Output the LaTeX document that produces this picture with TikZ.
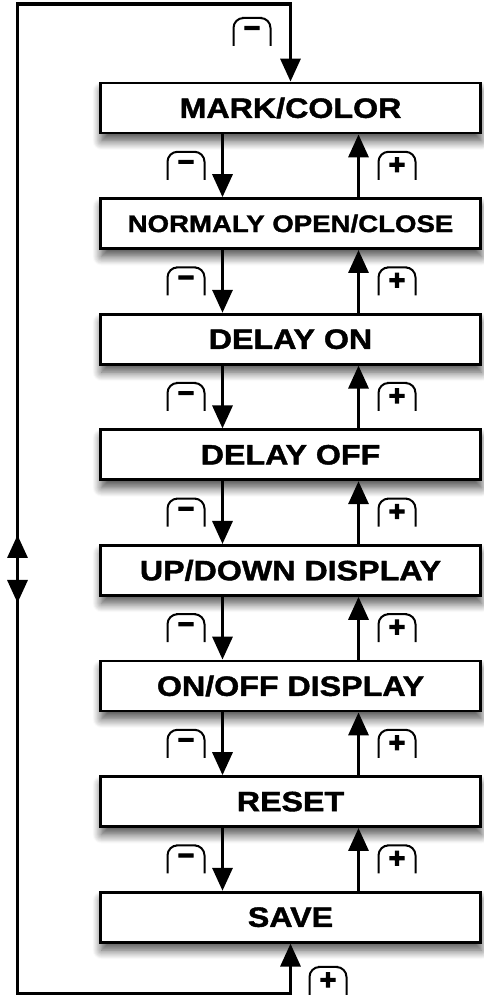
\documentclass[tikz,border=0pt]{standalone}
\usepackage{fontspec}
\newfontfamily\boxfont{Liberation Sans Bold}[FakeStretch=1.15, FakeBold=1.5]
\newfontfamily\signfont{Liberation Sans Bold}[FakeBold=4]
\usetikzlibrary{positioning,arrows.meta,shadows.blur}

\newcommand{\buttonarch}[1]{\draw[archline] (#1.south west) |- (#1.north) -| (#1.south east);}

\begin{document}
\begin{tikzpicture}[x=1pt,y=1pt,
    node distance=62.8pt,
    bighead/.tip={Triangle[width=20pt,length=23pt]},
    statebox/.style={rectangle, draw=black, line width=2.8pt, fill=white, minimum width=380pt, minimum height=50pt, font=\boxfont\fontsize{28}{30}\selectfont, blur shadow={shadow xshift=1pt, shadow yshift=-8pt, shadow blur radius=9pt, shadow blur steps=10, shadow opacity=70}},
    flow/.style={line width=3.3pt, -bighead},
    btn/.style={inner sep=0pt, outer sep=0pt, minimum width=37pt, minimum height=28pt, font=\signfont\fontsize{28}{28}\selectfont},
    archline/.style={line width=2pt, rounded corners=10pt},
]
\useasboundingbox (0,0) rectangle (483,995);

%Nodes
\node[statebox] (mark) at (290.5,887) {MARK/COLOR};
\node[statebox, font=\boxfont\fontsize{24}{26}\selectfont] (normaly) [below=of mark] {NORMALY OPEN/CLOSE};
\node[statebox] (delayon) [below=of normaly] {DELAY ON};
\node[statebox] (delayoff) [below=of delayon] {DELAY OFF};
\node[statebox] (updown) [below=of delayoff] {UP/DOWN DISPLAY};
\node[statebox] (onoff) [below=of updown] {ON/OFF DISPLAY};
\node[statebox] (reset) [below=of onoff] {RESET};
\node[statebox] (save) [below=of reset] {SAVE};

%Minus steps
\draw[flow] ([xshift=-68pt]mark.south) -- ([xshift=-68pt]normaly.north) node[btn, midway, left=18pt] (m1) {−};
\draw[flow] ([xshift=-68pt]normaly.south) -- ([xshift=-68pt]delayon.north) node[btn, midway, left=18pt] (m2) {−};
\draw[flow] ([xshift=-68pt]delayon.south) -- ([xshift=-68pt]delayoff.north) node[btn, midway, left=18pt] (m3) {−};
\draw[flow] ([xshift=-68pt]delayoff.south) -- ([xshift=-68pt]updown.north) node[btn, midway, left=18pt] (m4) {−};
\draw[flow] ([xshift=-68pt]updown.south) -- ([xshift=-68pt]onoff.north) node[btn, midway, left=18pt] (m5) {−};
\draw[flow] ([xshift=-68pt]onoff.south) -- ([xshift=-68pt]reset.north) node[btn, midway, left=18pt] (m6) {−};
\draw[flow] ([xshift=-68pt]reset.south) -- ([xshift=-68pt]save.north) node[btn, midway, left=18pt] (m7) {−};

%Plus steps
\draw[flow] ([xshift=68pt]normaly.north) -- ([xshift=68pt]mark.south) node[btn, midway, right=20pt] (p1) {+};
\draw[flow] ([xshift=68pt]delayon.north) -- ([xshift=68pt]normaly.south) node[btn, midway, right=20pt] (p2) {+};
\draw[flow] ([xshift=68pt]delayoff.north) -- ([xshift=68pt]delayon.south) node[btn, midway, right=20pt] (p3) {+};
\draw[flow] ([xshift=68pt]updown.north) -- ([xshift=68pt]delayoff.south) node[btn, midway, right=20pt] (p4) {+};
\draw[flow] ([xshift=68pt]onoff.north) -- ([xshift=68pt]updown.south) node[btn, midway, right=20pt] (p5) {+};
\draw[flow] ([xshift=68pt]reset.north) -- ([xshift=68pt]onoff.south) node[btn, midway, right=20pt] (p6) {+};
\draw[flow] ([xshift=68pt]save.north) -- ([xshift=68pt]reset.south) node[btn, midway, right=20pt] (p7) {+};

%Loop back
\coordinate (looptop) at (17.5,991);
\coordinate (loopbot) at (17.5,1.5);
\coordinate (loopmid) at (17.5,426);
\coordinate (loopup) at (17.5,460);
\coordinate (loopdn) at (17.5,392);
\draw[flow, bighead-bighead] (save.south) |- (loopbot) -- (looptop) -| (mark.north);
\draw[flow] (loopmid) -- (loopup);
\draw[flow] (loopmid) -- (loopdn);

\node[btn] (mtop) at (252,963) {−};
\node[btn] (pbot) at (328,14) {+};

%Buttons
\buttonarch{mtop}
\buttonarch{pbot}
\buttonarch{m1}
\buttonarch{m2}
\buttonarch{m3}
\buttonarch{m4}
\buttonarch{m5}
\buttonarch{m6}
\buttonarch{m7}
\buttonarch{p1}
\buttonarch{p2}
\buttonarch{p3}
\buttonarch{p4}
\buttonarch{p5}
\buttonarch{p6}
\buttonarch{p7}
\end{tikzpicture}
\end{document}
